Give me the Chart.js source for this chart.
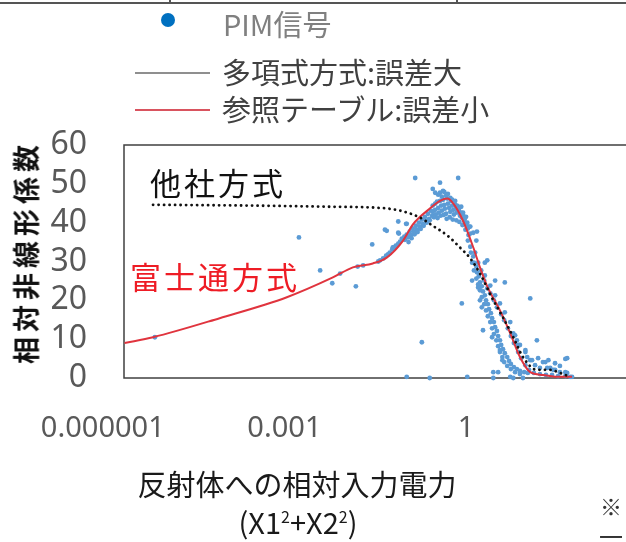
<!DOCTYPE html>
<html lang="ja">
<head>
<meta charset="utf-8">
<script src="https://cdn.jsdelivr.net/npm/chart.js@4.4.1/dist/chart.umd.min.js"></script>
<style>
  html, body { margin: 0; padding: 0; width: 626px; height: 542px; overflow: hidden; background: #fff; }
  body { position: relative; font-family: "Noto Sans CJK JP", "Noto Sans", sans-serif; }
  #wrap { position: absolute; left: 0; top: 0; width: 700px; height: 542px; }
  .txt { position: absolute; white-space: nowrap; line-height: 1; }
  .bar { position: absolute; }
  .sup { font-size: 16px; position: relative; top: -11px; }
</style>
</head>
<body>
<div id="wrap"><canvas id="chart" width="700" height="542"></canvas></div>

<!-- cut-off frame of the chart above -->
<div class="bar" style="left:0;top:2px;width:626px;height:2px;background:#555"></div>
<div class="bar" style="left:169px;top:0;width:2px;height:3px;background:#555"></div>
<div class="bar" style="left:456px;top:0;width:2px;height:3px;background:#555"></div>

<!-- legend -->
<div class="bar" id="lg-dot" style="left:161px;top:13px;width:14px;height:14px;border-radius:50%"></div>
<div class="txt" id="lg-pim" style="left:223px;top:9px;font-size:29px;color:#808080"></div>
<div class="bar" id="lg-line1" style="left:135px;top:72px;width:75px;height:2px"></div>
<div class="txt" id="lg-poly" style="left:222px;top:57px;font-size:29px;color:#404040"></div>
<div class="bar" id="lg-line2" style="left:135px;top:109px;width:75px;height:2px"></div>
<div class="txt" id="lg-ref" style="left:222px;top:94px;font-size:29px;color:#404040"></div>

<!-- annotations -->
<div class="txt" style="left:150px;top:166px;font-size:31px;letter-spacing:3px;color:#111">他社方式</div>
<div class="txt" style="left:130px;top:260px;font-size:31px;letter-spacing:3px;color:#ee1c25">富士通方式</div>

<!-- axis titles -->
<div class="txt" style="left:25px;top:252px;font-size:27px;letter-spacing:5px;font-weight:bold;color:#111;transform:translate(-50%,-50%) rotate(-90deg)">相対非線形係数</div>
<div class="txt" style="left:297px;top:469px;font-size:29px;color:#1a1a1a;transform:translateX(-50%)">反射体への相対入力電力</div>
<div class="txt" style="left:298px;top:507px;font-size:29px;color:#1a1a1a;transform:translateX(-50%)">(X1<span class="sup">2</span>+X2<span class="sup">2</span>)</div>

<div class="txt" style="left:600px;top:494px;font-size:22px;color:#333">※</div>
<div class="txt" style="left:599px;top:524px;font-size:24px;color:#333">一</div>

<script>
// x values are stored as log10 of the relative input power
const pimLabel  = 'PIM信号';
const polyLabel = '多項式方式:誤差大';
const refLabel  = '参照テーブル:誤差小';

const xTickValues = [1e-6, 1e-3, 1];
const xTickLabels = ['0.000001', '0.001', '1'];
const xMin = 2.24e-6;
const xMax = 5000;
const yTickValues = [0, 10, 20, 30, 40, 50, 60];

// 他社方式 (dotted)
const polyLogX = [-5.17, -3.57, -2.25, -1.42, -1.09, -0.76, -0.55, -0.31, -0.10, 0.07, 0.23, 0.45, 0.61, 0.78, 0.94, 1.17, 1.39, 1.55, 1.72];
const polyY    = [44.6, 44.4, 44.1, 43.8, 43.1, 41.3, 39.2, 36.7, 33.6, 30.8, 26.9, 20.0, 15.6, 10.5, 5.4, 2.1, 2.1, 1.3, 0.3];

// 富士通方式 (red)
const refLogX = [-5.64, -5.17, -4.07, -2.96, -2.20, -1.87, -1.54, -1.31, -1.04, -0.88, -0.76, -0.64, -0.43, -0.31, -0.21, -0.05, 0.12, 0.23, 0.35, 0.56, 0.73, 0.89, 1.06, 1.27, 1.55, 1.75];
const refY    = [9.0, 10.5, 15.4, 20.8, 25.9, 28.5, 29.5, 31.0, 35.4, 39.5, 41.5, 43.1, 45.6, 46.2, 44.9, 40.5, 33.6, 28.5, 23.6, 17.4, 11.5, 5.4, 1.5, 0.8, 0.3, 0.3];

// measured PIM signal, [log10 x, y]
const pimPoints = [
  [-5.14,10.5],[-2.76,36.2],[-2.41,27.7],[-2.21,24.4],[-2.08,26.9],[-1.82,23.6],[-1.79,28.7],[-1.70,29.0],
  [-1.55,34.4],[-1.45,30.0],[-1.34,38.2],[-1.31,37.9],[-1.21,33.6],[-1.12,40.3],[-1.12,37.4],[-1.11,37.2],
  [-0.99,39.7],[-0.98,39.7],[-0.98,0.3],[-0.73,9.2],[-0.60,0],
  [-1.42,30.3],[-1.37,30.8],[-1.32,31.5],[-1.29,31.8],[-1.26,32.3],[-1.22,33.1],[-1.19,33.6],[-1.16,34.1],
  [-1.12,34.6],[-1.09,35.1],[-1.06,35.9],[-1.02,36.4],[-1.01,35.6],[-0.98,36.9],[-0.96,36.2],[-0.93,37.7],
  [-0.91,36.9],[-0.88,38.5],[-0.86,37.7],[-0.83,39.2],[-0.81,38.2],[-0.78,40.0],[-0.76,39.0],[-0.73,40.8],
  [-0.71,39.7],[-0.68,41.5],[-0.66,40.5],[-0.63,42.3],[-0.61,41.0],[-0.58,43.1],[-0.56,41.8],
  [-0.95,35.0],[-0.90,36.0],[-0.85,37.0],[-0.80,37.6],[-0.75,38.4],[-0.70,39.2],[-0.65,40.0],[-0.60,40.6],
  [-0.55,44.4],[-0.55,42.8],[-0.51,44.9],[-0.51,43.3],[-0.50,42.1],[-0.48,45.4],[-0.46,43.8],[-0.45,42.6],
  [-0.43,45.6],[-0.41,44.4],[-0.40,43.1],[-0.38,45.9],[-0.36,44.6],[-0.35,43.6],[-0.33,42.3],[-0.31,46.2],
  [-0.30,44.9],[-0.28,43.8],[-0.26,42.8],[-0.25,45.6],[-0.23,44.4],[-0.21,43.3],[-0.20,42.1],[-0.18,44.6],
  [-0.17,43.6],[-0.15,42.6],[-0.13,44.1],[-0.12,43.1],[-0.10,41.8],[-0.08,42.6],[-0.07,41.3],[-0.05,42.1],
  [-0.03,40.5],[-0.02,41.0],[0.00,39.5],[0.02,40.0],[0.03,38.5],[0.05,39.0],[0.07,37.2],
  [-0.53,41.4],[-0.47,41.2],[-0.42,41.8],[-0.37,42.0],[-0.32,41.0],[-0.27,41.4],[-0.22,40.8],[-0.16,40.6],
  [-0.11,40.2],[-0.06,39.4],[-0.01,38.2],[0.04,36.8],
  [-0.46,47.2],[-0.43,47.7],[-0.40,46.7],[-0.36,47.9],[-0.33,46.9],[-0.30,47.4],[-0.26,46.4],[-0.23,45.9],
  [-0.18,45.6],[-0.15,44.4],[-0.12,43.6],[-0.08,44.1],[-0.05,42.6],[0.00,41.5],[0.07,39.0],[0.12,37.4],
  [0.18,37.7],[0.17,35.4],
  [-0.84,51.5],[-0.43,50.3],[-0.13,51.5],[-0.55,48.7],[-0.51,47.7],[-0.38,48.2],
  [0.03,35.4],[0.07,33.8],[0.08,32.3],[0.12,31.3],[0.13,29.7],[0.17,28.7],[0.18,27.2],[0.21,26.2],
  [0.23,24.6],[0.26,23.6],[0.28,22.3],[0.31,21.3],[0.33,20.0],[0.36,19.0],[0.38,17.7],[0.41,16.7],
  [0.43,15.4],[0.46,14.4],[0.48,13.1],[0.51,12.1],[0.53,10.8],[0.56,9.7],[0.58,8.5],[0.61,7.4],
  [0.64,6.4],[0.68,5.4],[0.71,4.4],[0.74,3.6],[0.79,2.8],[0.84,2.3],[0.89,1.8],[0.96,1.5],[1.02,1.3],
  [0.10,29.7],[0.13,27.7],[0.17,25.6],[0.20,24.1],[0.23,22.6],[0.26,20.8],[0.30,19.0],[0.33,17.4],
  [0.36,15.9],[0.40,14.4],[0.43,12.8],[0.46,11.3],[0.50,9.7],[0.53,8.2],[0.56,6.7],[0.60,5.4],
  [0.63,4.1],[0.68,3.1],[0.74,2.3],[0.81,1.5],[0.89,1.0],
  [0.15,32.3],[0.20,29.7],[0.25,27.7],[0.30,25.1],[0.35,23.1],[0.40,21.8],[0.46,20.0],[0.51,18.2],
  [0.58,16.4],[0.63,14.9],[0.69,12.8],[0.74,10.8],[0.79,9.0],[0.86,6.7],[0.91,5.1],[0.98,3.3],
  [1.04,2.1],[1.12,1.3],[1.22,1.0],[1.32,0.8],[1.42,0.8],[1.52,0.5],[1.64,0.5],[1.72,0.3],
  [0.31,26.4],[0.40,23.8],[0.48,21.3],[0.56,19.2],[0.64,16.9],[0.73,14.4],[0.81,11.0],[0.89,8.5],
  [0.98,6.7],[1.06,4.6],[1.14,3.3],[1.22,2.6],[1.31,4.1],[1.39,2.6],[1.47,2.1],[1.55,3.1],[1.64,1.5],
  [0.31,29.7],[0.10,25.1],[0.20,23.3],[0.23,20.0],[0.26,18.2],[0.48,25.1],[0.64,24.6],[1.06,20.5],
  [-0.07,19.2],[0.28,12.3],[0.43,10.5],[0.56,7.2],[0.60,4.6],[0.53,1.5],[0.45,1.5],[0.73,0.3],
  [0.78,11.5],[0.84,9.7],[0.86,8.5],[0.98,7.2],[1.17,9.7],[1.01,5.4],[1.09,4.6],[1.19,5.1],
  [1.27,4.1],[1.36,4.6],[1.47,3.8],[1.67,5.1],[1.34,2.6],[1.44,2.1],[1.55,1.5],[1.67,1.3],
  [1.75,0.3],[0.02,0.3],[0.45,0],[0.78,0],[0.94,0],[0.35,30.3],[1.64,4.9]
];

const pimColor  = '#5b9bd5';
const polyColor = '#111111';
const refColor  = '#e0343e';

// html legend
document.getElementById('lg-dot').style.background = '#0070c0';
document.getElementById('lg-pim').textContent = pimLabel;
document.getElementById('lg-line1').style.background = '#8f8f8f';
document.getElementById('lg-poly').textContent = polyLabel;
document.getElementById('lg-line2').style.background = '#d9535f';
document.getElementById('lg-ref').textContent = refLabel;

const framePlugin = {
  id: 'frame',
  beforeDatasetsDraw(c) {
    const { ctx, chartArea: a } = c;
    ctx.save();
    ctx.strokeStyle = '#404040';
    ctx.lineWidth = 1.5;
    ctx.strokeRect(a.left, a.top, a.right - a.left, a.bottom - a.top);
    ctx.restore();
  }
};

const chart = new Chart(document.getElementById('chart'), {
  type: 'scatter',
  data: {
    datasets: [
      {
        label: polyLabel,
        data: polyLogX.map((v, i) => ({ x: 10 ** v, y: polyY[i] })),
        showLine: true,
        borderColor: polyColor,
        borderWidth: 2.8,
        borderDash: [0.1, 5.4],
        borderCapStyle: 'round',
        pointRadius: 0,
        cubicInterpolationMode: 'monotone',
        order: 1
      },
      {
        label: refLabel,
        data: refLogX.map((v, i) => ({ x: 10 ** v, y: refY[i] })),
        showLine: true,
        borderColor: refColor,
        borderWidth: 2,
        pointRadius: 0,
        cubicInterpolationMode: 'monotone',
        order: 2
      },
      {
        label: pimLabel,
        data: pimPoints.map(([lx, y]) => ({ x: 10 ** lx, y })),
        backgroundColor: pimColor,
        pointRadius: 2.4,
        pointBorderWidth: 0,
        clip: false,
        order: 3
      }
    ]
  },
  options: {
    responsive: false,
    animation: false,
    layout: { padding: { top: 145, right: 10, left: 0, bottom: 0 } },
    plugins: { legend: { display: false }, tooltip: { enabled: false } },
    scales: {
      x: {
        type: 'logarithmic',
        min: xMin,
        max: xMax,
        afterBuildTicks: s => { s.ticks = xTickValues.map(v => ({ value: v })); },
        afterFit: s => { s.height = 164; s.paddingLeft = 0; s.paddingRight = 0; },
        grid: { display: false, drawTicks: false },
        border: { display: false },
        ticks: {
          autoSkip: false,
          maxRotation: 0,
          padding: 33,
          color: '#595959',
          font: { family: 'Noto Sans', size: 29 },
          callback: (v, i) => xTickLabels[i]
        }
      },
      y: {
        min: 0,
        max: 60,
        afterBuildTicks: s => { s.ticks = yTickValues.map(v => ({ value: v })); },
        afterFit: s => { s.width = 124; s.paddingTop = 0; s.paddingBottom = 0; },
        grid: { display: false, drawTicks: false },
        border: { display: false },
        ticks: {
          autoSkip: false,
          padding: 37,
          color: '#595959',
          font: { family: 'Noto Sans', size: 32 }
        }
      }
    }
  },
  plugins: [framePlugin]
});
</script>
</body>
</html>
